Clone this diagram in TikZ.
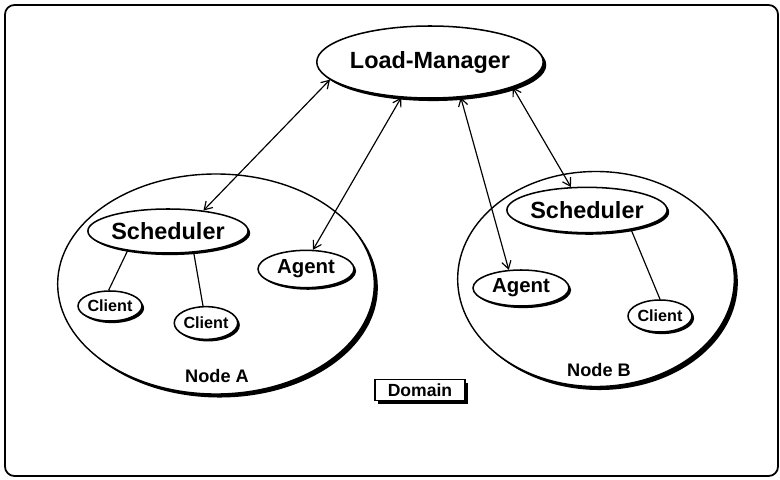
\documentclass[tikz,border=0pt]{standalone}
\usepackage{fontspec}
\setmainfont{Liberation Sans}
\usetikzlibrary{shapes.geometric,shadows,arrows.meta}

\tikzset{
	blob/.style={ellipse, draw, fill=white, line width=1.3pt, inner sep=0pt, font=\bfseries,
		drop shadow={opacity=1, fill=black, shadow xshift=1.8pt, shadow yshift=-1.8pt}},
	host/.style={blob, line width=1.2pt,
		drop shadow={opacity=1, fill=black, shadow xshift=3pt, shadow yshift=-3pt}},
	conn/.style={<->, line width=1pt},
	link/.style={line width=1pt},
	lbl/.style={font=\bfseries\fontsize{15.5}{18}\selectfont, inner sep=0pt}
}

\begin{document}
\begin{tikzpicture}[x=0.03cm, y=-0.03cm, >={Straight Barb[length=6.5pt, width=8pt, line width=1pt]}]
		\useasboundingbox (0,0) rectangle (780,480);
		\draw[line width=1.5pt, rounded corners=8pt] (5,5) rectangle (778,476);
		% the two hosts
		\node[host, minimum width=9.5cm, minimum height=6.6cm] (nodeA) at (216,284) {};
		\node[host, minimum width=8.3cm, minimum height=6.45cm] (nodeB) at (596,279) {};
		\node[lbl] (labA) at (217,376) {Node A};
		\node[lbl] (labB) at (599,370) {Node B};
		% processes
		\node[blob, minimum width=6.18cm, minimum height=2.16cm, font=\bfseries\fontsize{20}{24}\selectfont,
			drop shadow={opacity=1, fill=black, shadow xshift=2.6pt, shadow yshift=-2.6pt}] (lm) at (430,62) {Load-Manager};
		\node[blob, minimum width=4.45cm, minimum height=1.32cm, font=\bfseries\fontsize{20}{24}\selectfont] (schA) at (168,231) {Scheduler};
		\node[blob, minimum width=4.5cm, minimum height=1.36cm, font=\bfseries\fontsize{20}{24}\selectfont] (schB) at (587,210) {Scheduler};
		\node[blob, minimum width=2.88cm, minimum height=1.12cm, font=\bfseries\fontsize{17.4}{20}\selectfont] (agA) at (306,269) {Agent};
		\node[blob, minimum width=2.88cm, minimum height=1.08cm, font=\bfseries\fontsize{17.4}{20}\selectfont] (agB) at (521,288) {Agent};
		\node[blob, minimum width=1.92cm, minimum height=0.9cm, font=\bfseries\fontsize{13.8}{16}\selectfont] (clA1) at (110,306) {Client};
		\node[blob, minimum width=1.9cm, minimum height=0.98cm, font=\bfseries\fontsize{13.8}{16}\selectfont] (clA2) at (206,323) {Client};
		\node[blob, minimum width=1.92cm, minimum height=0.96cm, font=\bfseries\fontsize{13.8}{16}\selectfont] (clB) at (660,316) {Client};
		\node[draw, fill=white, line width=1.2pt, minimum width=2.7cm, minimum height=0.63cm, inner sep=0pt,
			drop shadow={opacity=1, fill=black, shadow xshift=2.6pt, shadow yshift=-2.6pt},
			font=\bfseries\fontsize{15}{18}\selectfont] (dom) at (420,390) {Domain};
		% links
		\draw[conn] (lm.190) -- (schA.30);
		\draw[conn] (lm.231) -- (agA.70);
		\draw[conn] (lm.311) -- (agB.124);
		\draw[conn] (lm.343) -- (schB.125);
		\draw[link] (schA.206) -- (clA1.95);
		\draw[link] (schA.320) -- (clA2.100);
		\draw[link] (schB.336) -- (clB.90);
\end{tikzpicture}
\end{document}
